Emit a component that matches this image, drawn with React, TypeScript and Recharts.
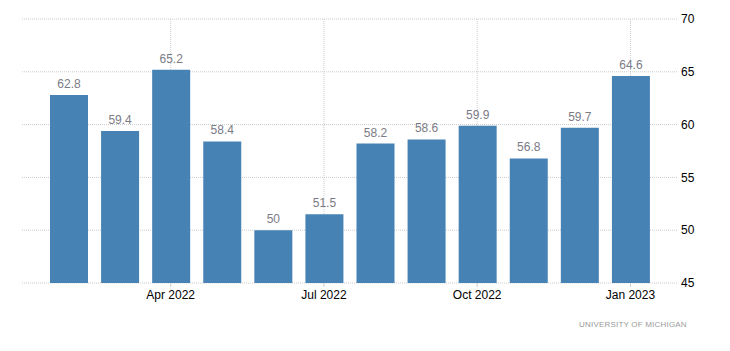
import React from 'react';
import { BarChart, Bar, XAxis, YAxis, CartesianGrid, LabelList } from 'recharts';

const months = [
  'Feb 2022', 'Mar 2022', 'Apr 2022', 'May 2022', 'Jun 2022', 'Jul 2022',
  'Aug 2022', 'Sep 2022', 'Oct 2022', 'Nov 2022', 'Dec 2022', 'Jan 2023',
];
const sentiment = [62.8, 59.4, 65.2, 58.4, 50, 51.5, 58.2, 58.6, 59.9, 56.8, 59.7, 64.6];
const xTicks = ['Apr 2022', 'Jul 2022', 'Oct 2022', 'Jan 2023'];
const yTicks = [45, 50, 55, 60, 65, 70];

const data = months.map((m, i) => ({ month: m, value: sentiment[i] }));

const font = '"Liberation Sans", Arial, sans-serif';

export default function App() {
  return (
    <div style={{ position: 'absolute', left: 0, top: 0, width: 730, height: 351, fontFamily: font }}>
      <BarChart width={730} height={351} data={data} margin={{ top: 19, right: 0, left: 22, bottom: 0 }}>
        {/* syncWithTicks keeps the vertical lines to the labelled months only */}
        <CartesianGrid stroke="#cccccc" strokeDasharray="1 1" syncWithTicks />
        <XAxis
          dataKey="month"
          ticks={xTicks}
          interval={0}
          height={68}
          padding={{ left: 21, right: 21 }}
          axisLine={false}
          tickLine={{ stroke: '#cccccc' }}
          tickSize={4}
          tickMargin={3}
          tick={{ fill: '#000', fontSize: 12, fontFamily: font }}
        />
        <YAxis
          orientation="right"
          domain={[45, 70]}
          ticks={yTicks}
          width={53}
          axisLine={false}
          tickLine={false}
          tickSize={0}
          tickMargin={4}
          tick={{ fill: '#000', fontSize: 12, fontFamily: font, textAnchor: 'start' }}
        />
        <Bar dataKey="value" fill="#4682b4" barSize={38} isAnimationActive={false}>
          <LabelList dataKey="value" position="top" offset={7} fill="#7b7b86" fontSize={12} fontFamily={font} />
        </Bar>
      </BarChart>
      <div
        style={{
          position: 'absolute', left: 579, top: 320, fontSize: 8, color: '#9a9a9a',
          letterSpacing: 0.2, fontFamily: font,
        }}
      >
        UNIVERSITY OF MICHIGAN
      </div>
    </div>
  );
}
